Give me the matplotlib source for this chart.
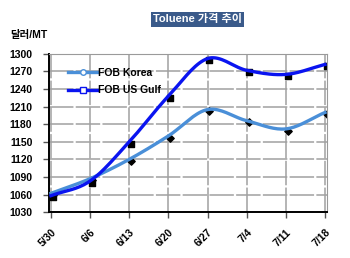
import numpy as np
import matplotlib.pyplot as plt
from matplotlib.lines import Line2D

plt.rcParams['font.family'] = ['Liberation Sans', 'Noto Sans CJK KR', 'DejaVu Sans']

# DATA
dates = ["5/30", "6/6", "6/13", "6/20", "6/27", "7/4", "7/11", "7/18"]
fob_korea = [1062, 1087, 1120, 1160, 1205, 1186, 1172, 1200]
fob_us_gulf = [1058, 1083, 1150, 1228, 1292, 1272, 1265, 1282]
yticks = [1030, 1060, 1090, 1120, 1150, 1180, 1210, 1240, 1270, 1300]


def smooth(x, y, n=20):
    # Catmull-Rom curve through the points (like Excel smoothed lines)
    x = np.asarray(x, float)
    y = np.asarray(y, float)
    px = np.concatenate([[2 * x[0] - x[1]], x, [2 * x[-1] - x[-2]]])
    py = np.concatenate([[2 * y[0] - y[1]], y, [2 * y[-1] - y[-2]]])
    xs, ys = [], []
    t = np.linspace(0, 1, n)
    for i in range(1, len(px) - 2):
        for p, out in ((px, xs), (py, ys)):
            p0, p1, p2, p3 = p[i - 1], p[i], p[i + 1], p[i + 2]
            out.extend(0.5 * (2 * p1 + (-p0 + p2) * t
                              + (2 * p0 - 5 * p1 + 4 * p2 - p3) * t ** 2
                              + (-p0 + 3 * p1 - 3 * p2 + p3) * t ** 3))
    return xs, ys


fig = plt.figure(figsize=(3.5, 2.58), dpi=100)
ax = fig.add_axes([0.14, 0.178, 0.794, 0.613])

x = np.arange(len(dates))
korea_color = "#4a8fd8"
gulf_color = "#0a14f0"

# black "shadow" markers
ax.scatter(x + 0.05, np.array(fob_korea) - 3, marker="D", s=14, color="black", zorder=2)
ax.scatter(x + 0.05, np.array(fob_us_gulf) - 3, marker="s", s=22, color="black", zorder=2)

sx, sy = smooth(x, fob_korea)
ax.plot(sx, sy, color=korea_color, lw=2.4, zorder=3)
sx, sy = smooth(x, fob_us_gulf)
ax.plot(sx, sy, color=gulf_color, lw=2.4, zorder=4)

ax.set_xlim(-0.05, 7.05)
ax.set_ylim(1030, 1300)
ax.set_yticks(yticks)
ax.set_xticks(x)
ax.set_xticklabels(dates, rotation=45, ha="right", rotation_mode="anchor")
ax.tick_params(labelsize=7.5, length=4, direction="out", width=1, color="#555555")
for lab in ax.get_xticklabels() + ax.get_yticklabels():
    lab.set_fontweight("bold")
ax.tick_params(axis="x", pad=7)
ax.tick_params(axis="y", pad=8)

ax.grid(True, color="#a0a0a0", lw=1.1, linestyle=(0, (16, 1.5)))
ax.set_axisbelow(True)
for s in ax.spines.values():
    s.set_color("#9a9a9a")
ax.spines["left"].set_color("black")
ax.spines["bottom"].set_color("black")
ax.spines["left"].set_linewidth(1.4)
ax.spines["bottom"].set_linewidth(1.4)

handles = [
    Line2D([], [], color=korea_color, lw=2.4, marker="o", markersize=4,
           markerfacecolor="white", markeredgecolor=korea_color),
    Line2D([], [], color=gulf_color, lw=2.4, marker="s", markersize=5,
           markerfacecolor="white", markeredgecolor=gulf_color),
]
leg = ax.legend(handles, ["FOB Korea", "FOB US Gulf"], loc="upper left",
                bbox_to_anchor=(0.035, 0.97), frameon=False, fontsize=7.5,
                handlelength=2.8, handletextpad=0.1, labelspacing=0.7)
for t in leg.get_texts():
    t.set_fontweight("bold")

fig.text(0.565, 0.925, "Toluene 가격 추이", ha="center", va="center", fontsize=8,
         fontweight="bold", color="white",
         bbox=dict(boxstyle="square,pad=0.2", facecolor="#3a5a8a", edgecolor="none"))
fig.text(0.03, 0.865, "달러/MT", ha="left", va="center", fontsize=7.5, fontweight="bold")

fig.savefig("out.png", dpi=100)
